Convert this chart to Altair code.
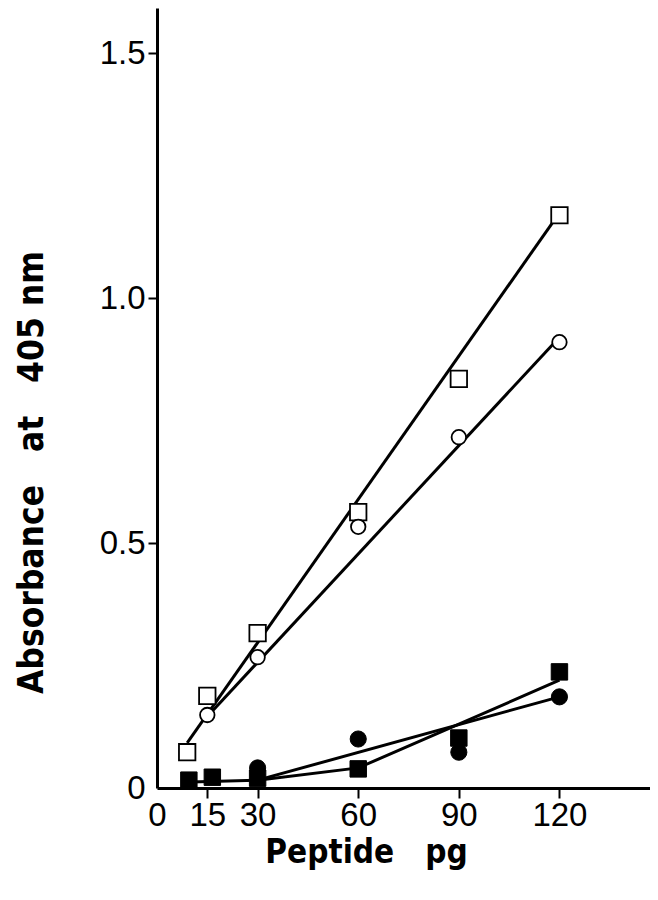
import altair as alt
import pandas as pd

# ---- data ----
open_sq_x = [9, 15, 30, 60, 90, 120]
open_sq_y = [0.073, 0.188, 0.316, 0.563, 0.835, 1.169]

open_ci_x = [15, 30, 60, 90, 120]
open_ci_y = [0.149, 0.267, 0.533, 0.716, 0.910]

fill_sq_x = [9.5, 16.5, 30, 60, 90, 120]
fill_sq_y = [0.016, 0.022, 0.020, 0.039, 0.102, 0.237]

fill_ci_x = [30, 60, 90, 120]
fill_ci_y = [0.041, 0.100, 0.073, 0.186]

# drawn lines (vertices)
line_open_sq_x = [9, 120]
line_open_sq_y = [0.092, 1.174]
line_open_ci_x = [15, 120]
line_open_ci_y = [0.146, 0.920]
line_fill_sq_x = [10, 30, 60, 120]
line_fill_sq_y = [0.012, 0.016, 0.041, 0.220]
line_fill_ci_x = [30, 120]
line_fill_ci_y = [0.016, 0.186]

x_ticks = [0, 15, 30, 60, 90, 120]
y_ticks = [0, 0.5, 1.0, 1.5]

NB = "\u00a0"
x_title = "Peptide" + NB * 3 + "pg"
y_title = "Absorbance" + NB * 3 + "at" + NB * 3 + "405" + NB + "nm"


def pts(xs, ys, name):
    return pd.DataFrame({"x": xs, "y": ys, "s": name})


points = pd.concat([
    pts(open_sq_x, open_sq_y, "open_sq"),
    pts(open_ci_x, open_ci_y, "open_ci"),
    pts(fill_sq_x, fill_sq_y, "fill_sq"),
    pts(fill_ci_x, fill_ci_y, "fill_ci"),
], ignore_index=True)

lines = pd.concat([
    pts(line_open_sq_x, line_open_sq_y, "a"),
    pts(line_open_ci_x, line_open_ci_y, "b"),
    pts(line_fill_sq_x, line_fill_sq_y, "c"),
    pts(line_fill_ci_x, line_fill_ci_y, "d"),
], ignore_index=True)

x_scale = alt.Scale(domain=[0, 147], nice=False, zero=False)
y_scale = alt.Scale(domain=[0, 1.592], nice=False)

tick_font = "Liberation Sans"
title_font = "'DejaVu Sans Condensed', 'Liberation Sans', sans-serif"

x_axis = alt.Axis(
    values=x_ticks, title=x_title, grid=False,
    labelFont=tick_font, labelFontSize=33, labelColor="black",
    labelPadding=1, labelFlush=False, labelOverlap=False,
    tickSize=10, tickWidth=2, tickColor="black",
    tickOpacity={"expr": "datum.value == 0 ? 0 : 1"},
    domainWidth=3, domainColor="black",
    titleFont=title_font, titleFontWeight="bold", titleFontSize=33,
    titleColor="black", titleX=209, titleY=64, titleBaseline="middle",
    titleAlign="center",
)
y_axis = alt.Axis(
    values=y_ticks, title=y_title, grid=False,
    labelExpr="datum.value == 0 ? '0' : format(datum.value, '.1f')",
    labelFont=tick_font, labelFontSize=33, labelColor="black",
    labelPadding=3, labelFlush=False, labelOverlap=False,
    tickSize=9, tickWidth=2, tickColor="black",
    tickOpacity={"expr": "datum.value == 0 ? 0 : 1"},
    domainWidth=3, domainColor="black",
    titleFont=title_font, titleFontWeight="bold", titleFontSize=35,
    titleColor="black", titleX=-126, titleY=464, titleAngle=270,
    titleBaseline="middle", titleAlign="center",
)

X = alt.X("x:Q", scale=x_scale, axis=x_axis)
Y = alt.Y("y:Q", scale=y_scale, axis=y_axis)

line_layer = alt.Chart(lines).mark_line(color="black", strokeWidth=3).encode(
    x=X, y=Y, detail="s:N"
)

base = alt.Chart(points)
open_sq = base.transform_filter("datum.s == 'open_sq'").mark_point(
    shape="square", filled=True, fill="white", stroke="black",
    strokeWidth=1.8, size=270, opacity=1
).encode(x=X, y=Y)
open_ci = base.transform_filter("datum.s == 'open_ci'").mark_point(
    shape="circle", filled=True, fill="white", stroke="black",
    strokeWidth=1.8, size=210, opacity=1
).encode(x=X, y=Y)
fill_sq = base.transform_filter("datum.s == 'fill_sq'").mark_point(
    shape="square", filled=True, fill="black", stroke="black",
    strokeWidth=1, size=270, opacity=1
).encode(x=X, y=Y)
fill_ci = base.transform_filter("datum.s == 'fill_ci'").mark_point(
    shape="circle", filled=True, fill="black", stroke="black",
    strokeWidth=1, size=260, opacity=1
).encode(x=X, y=Y)

chart = alt.layer(line_layer, open_sq, open_ci, fill_sq, fill_ci).properties(
    width=493, height=780,
    autosize=alt.AutoSizeParams(type="none"),
    padding={"left": 149, "top": 0, "right": 0, "bottom": 104},
    background="white",
).configure_view(stroke=None)

chart.save("out.html", embed_options={"renderer": "svg", "actions": False})
